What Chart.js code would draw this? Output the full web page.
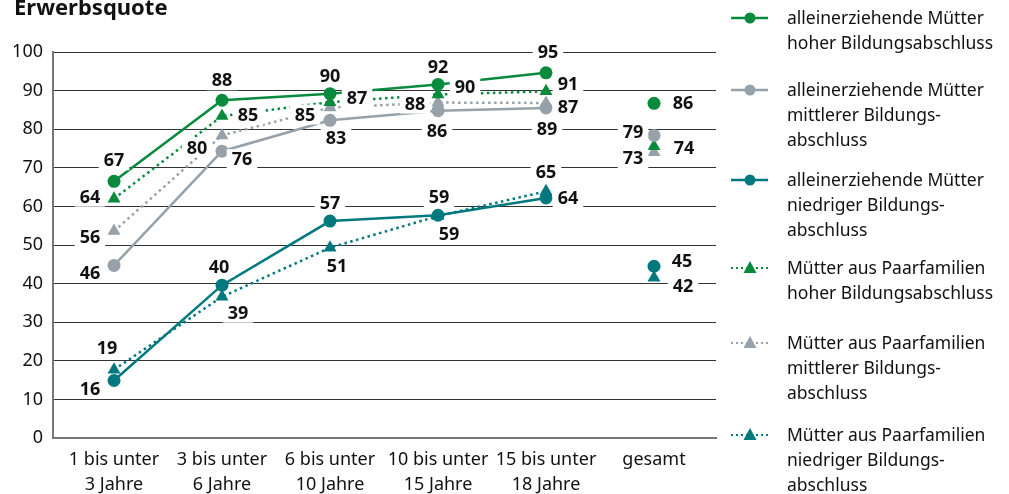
<!DOCTYPE html>
<html>
<head>
<meta charset="utf-8">
<script src="https://cdn.jsdelivr.net/npm/chart.js@4"></script>
<style>
  body { margin: 0; background: #fff; }
  canvas { display: block; }
</style>
</head>
<body>
<canvas id="chartQuote" width="1009" height="494"></canvas>
<script>
// Kategorien (x-Achse)
const categories = [
  ['1 bis unter', '3 Jahre'],
  ['3 bis unter', '6 Jahre'],
  ['6 bis unter', '10 Jahre'],
  ['10 bis unter', '15 Jahre'],
  ['15 bis unter', '18 Jahre'],
  ['gesamt']
];

// Werte, wie sie im Bild liegen
const alleinHoch    = [66.5, 87.5, 89.2, 91.6, 94.6, 86.7];
const alleinMittel  = [44.7, 74.3, 82.3, 84.8, 85.5, 78.4];
const alleinNiedrig = [14.9, 39.6, 56.2, 57.7, 62.2, 44.5];
const paarHoch      = [62.0, 83.4, 87.0, 89.0, 89.8, 75.6];
const paarMittel    = [53.6, 78.4, 85.6, 86.9, 86.8, 74.0];
const paarNiedrig   = [17.7, 36.6, 49.3, 57.5, 63.9, 41.5];

// beschriftete Werte
const lblAlleinHoch    = [67, 88, 90, 92, 95, 86];
const lblAlleinMittel  = [46, 76, 83, 86, 89, 79];
const lblAlleinNiedrig = [16, 40, 57, 59, 64, 45];
const lblPaarHoch      = [64, 85, 87, 90, 91, 74];
const lblPaarMittel    = [56, 80, 85, 88, 87, 73];
const lblPaarNiedrig   = [19, 39, 51, 59, 65, 42];

const yTicks = [0, 10, 20, 30, 40, 50, 60, 70, 80, 90, 100];

// Legendentexte
const legendLines = [
  ['alleinerziehende Mütter', 'hoher Bildungsabschluss'],
  ['alleinerziehende Mütter', 'mittlerer Bildungs-', 'abschluss'],
  ['alleinerziehende Mütter', 'niedriger Bildungs-', 'abschluss'],
  ['Mütter aus Paarfamilien', 'hoher Bildungsabschluss'],
  ['Mütter aus Paarfamilien', 'mittlerer Bildungs-', 'abschluss'],
  ['Mütter aus Paarfamilien', 'niedriger Bildungs-', 'abschluss']
];

const GREEN = '#0a8a3d';
const GRAY = '#97a1aa';
const TEAL = '#00797e';

// Position der Beschriftung relativ zum Punkt [dx, dy]
const labelOffsets = [
  [[0, -21], [0, -20], [0, -18], [0, -18], [2, -21], [29, 0]],
  [[-24, 7], [20, 8], [6, 18], [-1, 20], [1, 21], [-21, -4]],
  [[-24, 8], [-3, -18], [0, -18], [1, -18], [22, 0], [28, -5]],
  [[-24, -2], [26, -1], [27, -4], [27, -8], [22, -7], [30, 2]],
  [[-24, 6], [-25, 12], [-25, 7], [-23, 1], [22, 4], [-21, 6]],
  [[-7, -22], [16, 16], [7, 18], [11, 18], [0, -19], [29, 8]]
];

const toXY = arr => arr.map((v, i) => ({ x: i, y: v }));
const noGap = ctx => ctx.p1DataIndex === 5 ? 'rgba(0,0,0,0)' : undefined;

function solid(idx, values, labels, color) {
  return {
    label: legendLines[idx].join(' '),
    data: toXY(values),
    valueLabels: labels,
    borderColor: color,
    backgroundColor: color,
    borderWidth: 2.5,
    pointStyle: 'circle',
    pointRadius: 6.5,
    pointHoverRadius: 6.5,
    pointBorderWidth: 0,
    segment: { borderColor: noGap }
  };
}

function dotted(idx, values, labels, color) {
  return {
    label: legendLines[idx].join(' '),
    data: toXY(values),
    valueLabels: labels,
    borderColor: color,
    backgroundColor: color,
    borderWidth: 2.5,
    borderDash: [2.5, 3.5],
    pointStyle: 'triangle',
    pointRadius: 7.5,
    pointHoverRadius: 7.5,
    pointBorderWidth: 0,
    segment: { borderColor: noGap }
  };
}

const datasets = [
  solid(0, alleinHoch, lblAlleinHoch, GREEN),
  solid(1, alleinMittel, lblAlleinMittel, GRAY),
  solid(2, alleinNiedrig, lblAlleinNiedrig, TEAL),
  dotted(3, paarHoch, lblPaarHoch, GREEN),
  dotted(4, paarMittel, lblPaarMittel, GRAY),
  dotted(5, paarNiedrig, lblPaarNiedrig, TEAL)
];

// Werte an die Punkte schreiben (mit weissem Hintergrund)
const valueLabels = {
  id: 'valueLabels',
  afterDatasetsDraw(chart) {
    const ctx = chart.ctx;
    ctx.save();
    ctx.font = 'bold 18px "Noto Sans"';
    ctx.textAlign = 'center';
    ctx.textBaseline = 'middle';
    chart.data.datasets.forEach((ds, d) => {
      const meta = chart.getDatasetMeta(d);
      meta.data.forEach((pt, i) => {
        const txt = String(ds.valueLabels[i]);
        const [dx, dy] = labelOffsets[d][i];
        const x = pt.x + dx, y = pt.y + dy;
        const w = ctx.measureText(txt).width;
        ctx.fillStyle = '#fff';
        ctx.fillRect(x - w / 2 - 5, y - 10, w + 10, 20);
        ctx.fillStyle = '#111';
        ctx.fillText(txt, x, y + 1);
      });
    });
    ctx.restore();
  }
};

// Titel und Legende rechts
const extras = {
  id: 'extras',
  afterDraw(chart) {
    const ctx = chart.ctx;
    ctx.save();
    ctx.fillStyle = '#111';
    ctx.font = 'bold 22px "Noto Sans"';
    ctx.textAlign = 'left';
    ctx.textBaseline = 'alphabetic';
    ctx.fillText('Erwerbsquote', 14, 15);

    const tops = [18, 90, 180, 268, 343, 435];
    ctx.font = '17.5px "Noto Sans"';
    ctx.textBaseline = 'middle';
    chart.data.datasets.forEach((ds, d) => {
      const y = tops[d];
      ctx.strokeStyle = ds.borderColor;
      ctx.fillStyle = ds.borderColor;
      ctx.lineWidth = ds.borderDash ? 2 : 2.5;
      ctx.setLineDash(ds.borderDash ? [2, 3] : []);
      ctx.beginPath();
      ctx.moveTo(731, y);
      ctx.lineTo(768, y);
      ctx.stroke();
      ctx.setLineDash([]);
      ctx.beginPath();
      if (ds.pointStyle === 'circle') {
        ctx.arc(750, y, 5.5, 0, Math.PI * 2);
      } else {
        ctx.moveTo(750, y - 7);
        ctx.lineTo(756.5, y + 5);
        ctx.lineTo(743.5, y + 5);
        ctx.closePath();
      }
      ctx.fill();
      ctx.fillStyle = '#111';
      legendLines[d].forEach((line, k) => {
        ctx.fillText(line, 787, y + 1 + k * 25);
      });
    });
    ctx.restore();
  }
};

new Chart(document.getElementById('chartQuote'), {
  type: 'line',
  data: { datasets: datasets },
  plugins: [valueLabels, extras],
  options: {
    responsive: false,
    animation: false,
    devicePixelRatio: 1,
    layout: { padding: { left: 0, top: 52, right: 293, bottom: 0 } },
    plugins: {
      legend: { display: false },
      tooltip: { enabled: false }
    },
    scales: {
      x: {
        type: 'linear',
        min: -0.565,
        max: 5.574,
        afterBuildTicks: scale => {
          scale.ticks = categories.map((c, i) => ({ value: i }));
        },
        afterFit: scale => { scale.height = 56; },
        grid: { display: false },
        border: { color: '#777', width: 2 },
        ticks: {
          padding: 1,
          maxRotation: 0,
          autoSkip: false,
          color: '#111',
          font: { family: 'Noto Sans', size: 18, lineHeight: 1.4 },
          callback: v => categories[v]
        }
      },
      y: {
        min: 0,
        max: 100,
        afterBuildTicks: scale => {
          scale.ticks = yTicks.map(v => ({ value: v }));
        },
        afterFit: scale => { scale.width = 53; },
        grid: { color: '#333', lineWidth: 1, drawTicks: false },
        border: { color: '#777', width: 2 },
        ticks: {
          padding: 10,
          color: '#111',
          font: { family: 'Noto Sans', size: 18 }
        }
      }
    }
  }
});
</script>
</body>
</html>
